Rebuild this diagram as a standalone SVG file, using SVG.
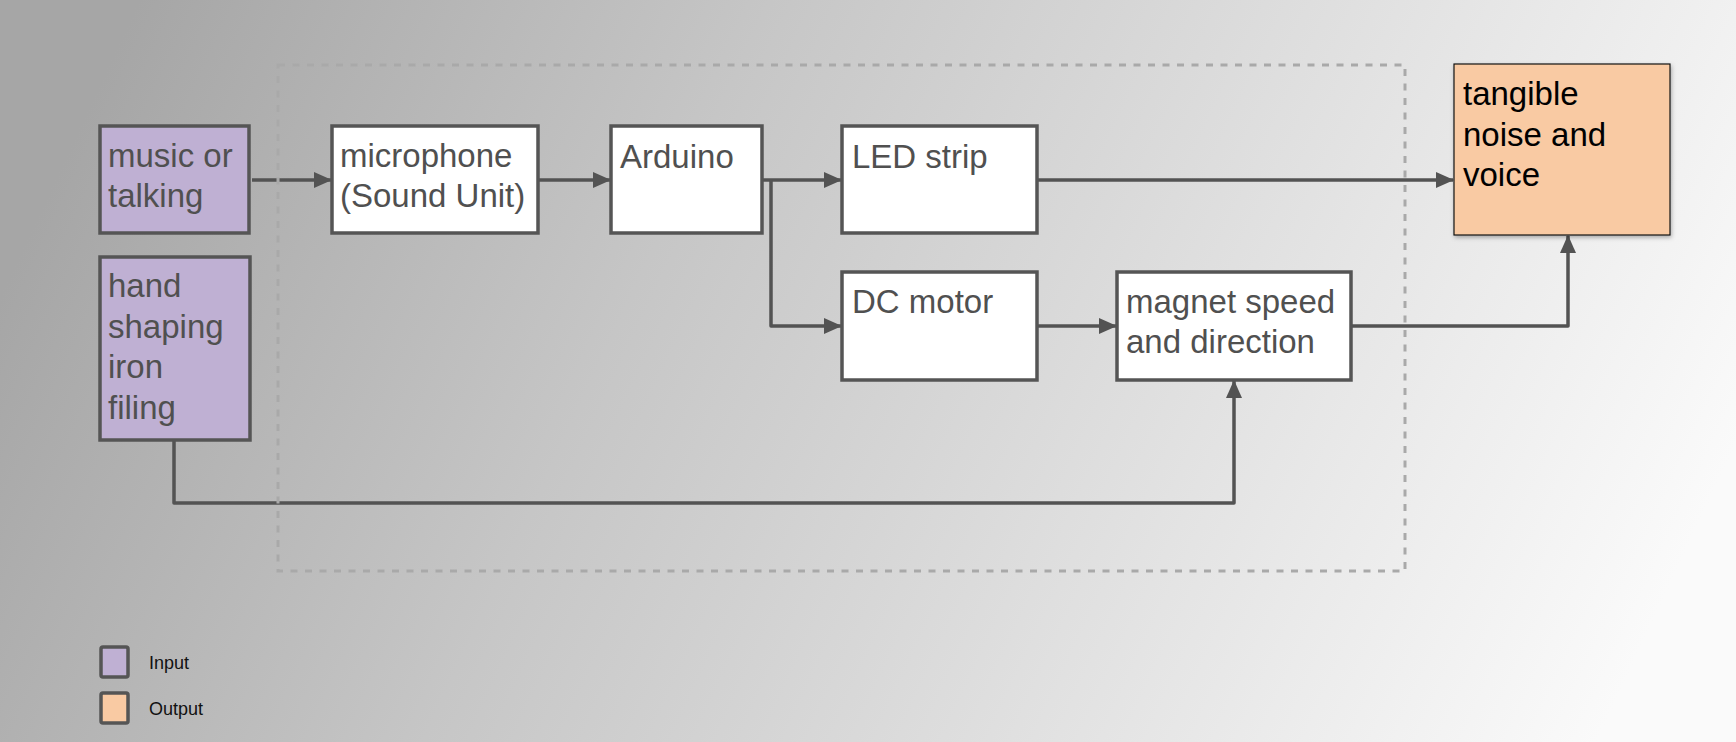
<svg xmlns="http://www.w3.org/2000/svg" width="1736" height="742" viewBox="0 0 1736 742">
<defs>
<linearGradient id="bg" x1="0" y1="0.4" x2="1" y2="0.6">
<stop offset="0" stop-color="#a6a6a6"/>
<stop offset="0.35" stop-color="#c6c6c6"/>
<stop offset="0.7" stop-color="#e2e2e2"/>
<stop offset="1" stop-color="#fafafa"/>
</linearGradient>
<marker id="arr" viewBox="0 0 18 16" refX="17" refY="8" markerWidth="18" markerHeight="16" markerUnits="userSpaceOnUse" orient="auto">
<path d="M0,0 L18,8 L0,16 Z" fill="#535353"/>
</marker>
<filter id="sh" x="-10%" y="-10%" width="130%" height="130%">
<feDropShadow dx="1" dy="2" stdDeviation="2" flood-color="#000" flood-opacity="0.3"/>
</filter>
</defs>
<style>
.box{stroke:#555;stroke-width:3.5;}
.w{fill:#fff;}
.in{fill:#bfb0d3;}
.out{fill:#f9caa3;}
.t{font-family:"Liberation Sans",Arial,sans-serif;font-size:33px;fill:#505050;}
.tk{font-family:"Liberation Sans",Arial,sans-serif;font-size:33px;fill:#000;}
.lg{font-family:"Liberation Sans",Arial,sans-serif;font-size:18px;fill:#111;}
.c{fill:none;stroke:#535353;stroke-width:3.5;stroke-linejoin:round;}
</style>
<rect x="0" y="0" width="1736" height="742" fill="url(#bg)"/>

<g id="connectors">
<path class="c" d="M252,180 H331" marker-end="url(#arr)"/>
<path class="c" d="M538,180 H610" marker-end="url(#arr)"/>
<path class="c" d="M762,180 H841" marker-end="url(#arr)"/>
<path class="c" d="M771,180 V326 H841" marker-end="url(#arr)"/>
<path class="c" d="M1037,180 H1453" marker-end="url(#arr)"/>
<path class="c" d="M1037,326 H1116" marker-end="url(#arr)"/>
<path class="c" d="M1351,326 H1568 V236" marker-end="url(#arr)"/>
<path class="c" d="M174,440 V503 H1234 V381" marker-end="url(#arr)"/>
</g>

<g id="boundary">
<rect x="278" y="65" width="1127" height="506" fill="none" stroke="#a9a9a9" stroke-width="3" stroke-dasharray="7 7.5"/>
</g>

<g id="music">
<rect class="box in" x="100" y="126" width="149" height="107"/>
<text class="t" x="108" y="167">music or</text>
<text class="t" x="108" y="207">talking</text>
</g>
<g id="hand">
<rect class="box in" x="100" y="257" width="150" height="183"/>
<text class="t" x="108" y="297">hand</text>
<text class="t" x="108" y="337.5">shaping</text>
<text class="t" x="108" y="378">iron</text>
<text class="t" x="108" y="418.5">filing</text>
</g>
<g id="microphone">
<rect class="box w" x="332" y="126" width="206" height="107"/>
<text class="t" x="340" y="167">microphone</text>
<text class="t" x="340" y="207">(Sound Unit)</text>
</g>
<g id="arduino">
<rect class="box w" x="611" y="126" width="151" height="107"/>
<text class="t" x="620" y="168">Arduino</text>
</g>
<g id="led">
<rect class="box w" x="842" y="126" width="195" height="107"/>
<text class="t" x="852" y="168">LED strip</text>
</g>
<g id="dcmotor">
<rect class="box w" x="842" y="272" width="195" height="108"/>
<text class="t" x="852" y="313">DC motor</text>
</g>
<g id="magnet">
<rect class="box w" x="1117" y="272" width="234" height="108"/>
<text class="t" x="1126" y="313">magnet speed</text>
<text class="t" x="1126" y="353">and direction</text>
</g>
<g id="tangible">
<rect x="1454" y="64" width="216" height="171" fill="#f9caa3" stroke="#111" stroke-width="1.2" filter="url(#sh)"/>
<text class="tk" x="1463" y="105">tangible</text>
<text class="tk" x="1463" y="145.5">noise and</text>
<text class="tk" x="1463" y="186">voice</text>
</g>

<g id="legend">
<rect class="box in" x="101" y="647" width="27" height="30" rx="2"/>
<text class="lg" x="149" y="669">Input</text>
<rect class="box out" x="101" y="693" width="27" height="30" rx="2"/>
<text class="lg" x="149" y="715">Output</text>
</g>
</svg>
